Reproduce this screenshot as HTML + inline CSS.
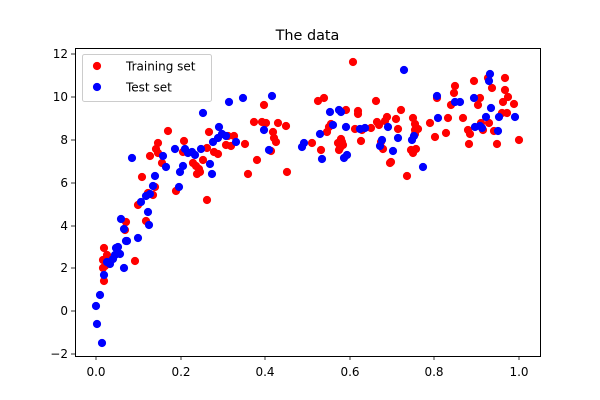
<!DOCTYPE html>
<html><head><meta charset="utf-8"><style>body{margin:0;background:#fff}svg{display:block;font-family:"DejaVu Sans","Liberation Sans",sans-serif}circle{r:4.1px}</style></head><body>
<svg width="600" height="400" viewBox="0 0 600 400" xmlns="http://www.w3.org/2000/svg">
<rect width="600" height="400" fill="#fff"/>
<text x="307.5" y="40" font-size="14.4" text-anchor="middle">The data</text>
<g fill="#ff0000">
<circle cx="104" cy="248" r="4.1"/><circle cx="104" cy="281" r="4.1"/><circle cx="103" cy="260" r="4.1"/><circle cx="103" cy="268" r="4.1"/><circle cx="105" cy="266" r="4.1"/><circle cx="107" cy="255" r="4.1"/><circle cx="126" cy="222" r="4.1"/><circle cx="125" cy="230" r="4.1"/><circle cx="135" cy="261" r="4.1"/><circle cx="138" cy="205" r="4.1"/><circle cx="142" cy="177" r="4.1"/><circle cx="146" cy="221" r="4.1"/><circle cx="148" cy="193" r="4.1"/><circle cx="153" cy="195" r="4.1"/><circle cx="150" cy="156" r="4.1"/><circle cx="155" cy="187" r="4.1"/><circle cx="158" cy="143" r="4.1"/><circle cx="158" cy="153" r="4.1"/><circle cx="156" cy="149" r="4.1"/><circle cx="162" cy="163" r="4.1"/><circle cx="168" cy="131" r="4.1"/><circle cx="176" cy="191" r="4.1"/><circle cx="183" cy="152" r="4.1"/><circle cx="184" cy="141" r="4.1"/><circle cx="193" cy="163" r="4.1"/><circle cx="196" cy="166" r="4.1"/><circle cx="197" cy="174" r="4.1"/><circle cx="199" cy="169" r="4.1"/><circle cx="200" cy="172" r="4.1"/><circle cx="203" cy="160" r="4.1"/><circle cx="207" cy="200" r="4.1"/><circle cx="207" cy="148" r="4.1"/><circle cx="209" cy="132" r="4.1"/><circle cx="214" cy="152" r="4.1"/><circle cx="218" cy="154" r="4.1"/><circle cx="226" cy="145" r="4.1"/><circle cx="228" cy="136" r="4.1"/><circle cx="231" cy="146" r="4.1"/><circle cx="234" cy="136" r="4.1"/><circle cx="245" cy="144" r="4.1"/><circle cx="248" cy="174" r="4.1"/><circle cx="254" cy="122" r="4.1"/><circle cx="257" cy="160" r="4.1"/><circle cx="262" cy="122" r="4.1"/><circle cx="264" cy="105" r="4.1"/><circle cx="266" cy="123" r="4.1"/><circle cx="271" cy="151" r="4.1"/><circle cx="273" cy="132" r="4.1"/><circle cx="274" cy="138" r="4.1"/><circle cx="276" cy="142" r="4.1"/><circle cx="278" cy="123" r="4.1"/><circle cx="286" cy="126" r="4.1"/><circle cx="287" cy="172" r="4.1"/><circle cx="312" cy="143" r="4.1"/><circle cx="318" cy="101" r="4.1"/><circle cx="321" cy="150" r="4.1"/><circle cx="324" cy="98" r="4.1"/><circle cx="327" cy="132" r="4.1"/><circle cx="329" cy="127" r="4.1"/><circle cx="331" cy="124" r="4.1"/><circle cx="338" cy="143" r="4.1"/><circle cx="339" cy="150" r="4.1"/><circle cx="340" cy="148" r="4.1"/><circle cx="341" cy="139" r="4.1"/><circle cx="342" cy="142" r="4.1"/><circle cx="343" cy="145" r="4.1"/><circle cx="346" cy="110" r="4.1"/><circle cx="353" cy="62" r="4.1"/><circle cx="355" cy="129" r="4.1"/><circle cx="358" cy="114" r="4.1"/><circle cx="358" cy="111" r="4.1"/><circle cx="361" cy="141" r="4.1"/><circle cx="362" cy="130" r="4.1"/><circle cx="371" cy="128" r="4.1"/><circle cx="376" cy="101" r="4.1"/><circle cx="377" cy="122" r="4.1"/><circle cx="379" cy="125" r="4.1"/><circle cx="381" cy="142" r="4.1"/><circle cx="383" cy="149" r="4.1"/><circle cx="385" cy="121" r="4.1"/><circle cx="387" cy="117" r="4.1"/><circle cx="390" cy="163" r="4.1"/><circle cx="391" cy="162" r="4.1"/><circle cx="396" cy="119" r="4.1"/><circle cx="398" cy="129" r="4.1"/><circle cx="401" cy="110" r="4.1"/><circle cx="407" cy="176" r="4.1"/><circle cx="411" cy="150" r="4.1"/><circle cx="413" cy="118" r="4.1"/><circle cx="415" cy="124" r="4.1"/><circle cx="413" cy="153" r="4.1"/><circle cx="415" cy="130" r="4.1"/><circle cx="416" cy="149" r="4.1"/><circle cx="415" cy="134" r="4.1"/><circle cx="418" cy="129" r="4.1"/><circle cx="430" cy="123" r="4.1"/><circle cx="435" cy="137" r="4.1"/><circle cx="437" cy="98" r="4.1"/><circle cx="446" cy="133" r="4.1"/><circle cx="448" cy="118" r="4.1"/><circle cx="451" cy="105" r="4.1"/><circle cx="454" cy="93" r="4.1"/><circle cx="455" cy="86" r="4.1"/><circle cx="463" cy="118" r="4.1"/><circle cx="468" cy="130" r="4.1"/><circle cx="469" cy="144" r="4.1"/><circle cx="470" cy="134" r="4.1"/><circle cx="474" cy="81" r="4.1"/><circle cx="478" cy="105" r="4.1"/><circle cx="480" cy="98" r="4.1"/><circle cx="481" cy="123" r="4.1"/><circle cx="483" cy="130" r="4.1"/><circle cx="488" cy="78" r="4.1"/><circle cx="489" cy="123" r="4.1"/><circle cx="492" cy="88" r="4.1"/><circle cx="494" cy="131" r="4.1"/><circle cx="497" cy="144" r="4.1"/><circle cx="502" cy="113" r="4.1"/><circle cx="503" cy="102" r="4.1"/><circle cx="505" cy="78" r="4.1"/><circle cx="505" cy="90" r="4.1"/><circle cx="507" cy="113" r="4.1"/><circle cx="508" cy="97" r="4.1"/><circle cx="514" cy="104" r="4.1"/><circle cx="519" cy="140" r="4.1"/>
</g>
<g fill="#0000ff">
<circle cx="96" cy="306" r="4.1"/><circle cx="97" cy="324" r="4.1"/><circle cx="100" cy="295" r="4.1"/><circle cx="102" cy="343" r="4.1"/><circle cx="104" cy="275" r="4.1"/><circle cx="107" cy="262" r="4.1"/><circle cx="110" cy="264" r="4.1"/><circle cx="113" cy="259" r="4.1"/><circle cx="115" cy="255" r="4.1"/><circle cx="116" cy="248" r="4.1"/><circle cx="118" cy="247" r="4.1"/><circle cx="120" cy="254" r="4.1"/><circle cx="121" cy="219" r="4.1"/><circle cx="124" cy="229" r="4.1"/><circle cx="124" cy="268" r="4.1"/><circle cx="126" cy="241" r="4.1"/><circle cx="127" cy="241" r="4.1"/><circle cx="132" cy="158" r="4.1"/><circle cx="138" cy="238" r="4.1"/><circle cx="141" cy="202" r="4.1"/><circle cx="146" cy="196" r="4.1"/><circle cx="148" cy="212" r="4.1"/><circle cx="149" cy="225" r="4.1"/><circle cx="150" cy="194" r="4.1"/><circle cx="153" cy="186" r="4.1"/><circle cx="155" cy="176" r="4.1"/><circle cx="163" cy="156" r="4.1"/><circle cx="166" cy="167" r="4.1"/><circle cx="175" cy="149" r="4.1"/><circle cx="179" cy="187" r="4.1"/><circle cx="180" cy="172" r="4.1"/><circle cx="183" cy="166" r="4.1"/><circle cx="185" cy="149" r="4.1"/><circle cx="188" cy="153" r="4.1"/><circle cx="192" cy="152" r="4.1"/><circle cx="195" cy="155" r="4.1"/><circle cx="201" cy="149" r="4.1"/><circle cx="203" cy="113" r="4.1"/><circle cx="210" cy="164" r="4.1"/><circle cx="212" cy="174" r="4.1"/><circle cx="213" cy="142" r="4.1"/><circle cx="218" cy="138" r="4.1"/><circle cx="219" cy="127" r="4.1"/><circle cx="222" cy="134" r="4.1"/><circle cx="226" cy="136" r="4.1"/><circle cx="229" cy="102" r="4.1"/><circle cx="236" cy="142" r="4.1"/><circle cx="243" cy="98" r="4.1"/><circle cx="264" cy="130" r="4.1"/><circle cx="269" cy="150" r="4.1"/><circle cx="272" cy="96" r="4.1"/><circle cx="302" cy="147" r="4.1"/><circle cx="304" cy="143" r="4.1"/><circle cx="320" cy="134" r="4.1"/><circle cx="322" cy="159" r="4.1"/><circle cx="330" cy="112" r="4.1"/><circle cx="333" cy="125" r="4.1"/><circle cx="339" cy="110" r="4.1"/><circle cx="341" cy="112" r="4.1"/><circle cx="344" cy="158" r="4.1"/><circle cx="346" cy="127" r="4.1"/><circle cx="347" cy="155" r="4.1"/><circle cx="360" cy="129" r="4.1"/><circle cx="365" cy="128" r="4.1"/><circle cx="380" cy="146" r="4.1"/><circle cx="382" cy="140" r="4.1"/><circle cx="388" cy="127" r="4.1"/><circle cx="393" cy="151" r="4.1"/><circle cx="398" cy="138" r="4.1"/><circle cx="404" cy="70" r="4.1"/><circle cx="412" cy="140" r="4.1"/><circle cx="414" cy="136" r="4.1"/><circle cx="423" cy="167" r="4.1"/><circle cx="437" cy="96" r="4.1"/><circle cx="438" cy="118" r="4.1"/><circle cx="455" cy="102" r="4.1"/><circle cx="460" cy="102" r="4.1"/><circle cx="474" cy="98" r="4.1"/><circle cx="475" cy="127" r="4.1"/><circle cx="480" cy="126" r="4.1"/><circle cx="482" cy="128" r="4.1"/><circle cx="486" cy="117" r="4.1"/><circle cx="489" cy="81" r="4.1"/><circle cx="490" cy="74" r="4.1"/><circle cx="491" cy="108" r="4.1"/><circle cx="498" cy="131" r="4.1"/><circle cx="499" cy="117" r="4.1"/><circle cx="515" cy="117" r="4.1"/>
</g>
<rect x="75.5" y="48.5" width="465" height="308" fill="none" stroke="#000" stroke-width="1"/>
<g stroke="#000" stroke-width="0.8">
<line x1="96" y1="356" x2="96" y2="360"/><line x1="181" y1="356" x2="181" y2="360"/><line x1="265" y1="356" x2="265" y2="360"/><line x1="350" y1="356" x2="350" y2="360"/><line x1="434" y1="356" x2="434" y2="360"/><line x1="519" y1="356" x2="519" y2="360"/>
<line x1="71" y1="354" x2="75" y2="354"/><line x1="71" y1="311" x2="75" y2="311"/><line x1="71" y1="268" x2="75" y2="268"/><line x1="71" y1="226" x2="75" y2="226"/><line x1="71" y1="183" x2="75" y2="183"/><line x1="71" y1="140" x2="75" y2="140"/><line x1="71" y1="97" x2="75" y2="97"/><line x1="71" y1="54" x2="75" y2="54"/>
</g>
<g font-size="12" text-anchor="middle">
<text x="96" y="376">0.0</text><text x="181" y="376">0.2</text><text x="265" y="376">0.4</text><text x="350" y="376">0.6</text><text x="434" y="376">0.8</text><text x="519" y="376">1.0</text>
</g>
<g font-size="12" text-anchor="end">
<text x="68" y="358">−2</text><text x="68" y="315">0</text><text x="68" y="272">2</text><text x="68" y="230">4</text><text x="68" y="187">6</text><text x="68" y="144">8</text><text x="68" y="101">10</text><text x="68" y="58">12</text>
</g>
<rect x="82.5" y="54.5" width="129" height="47" rx="2" fill="#fff" fill-opacity="0.8" stroke="#ccc"/>
<circle cx="97" cy="66" r="4.1" fill="#f00"/><circle cx="97" cy="87" r="4.1" fill="#00f"/>
<text x="126" y="70.5" font-size="12">Training set</text>
<text x="126" y="91.5" font-size="12">Test set</text>
</svg>
</body></html>
